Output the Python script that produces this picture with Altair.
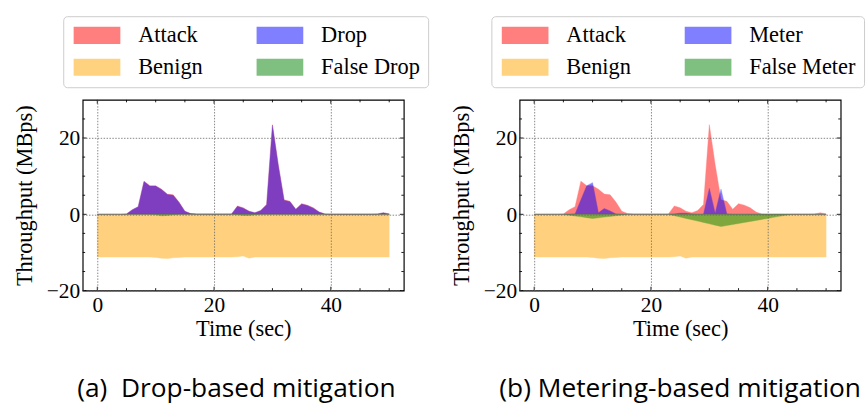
import altair as alt
import pandas as pd

# ---------------- data ----------------
time = list(range(51))

attack = [0, 0, 0, 0, 0, 0.1, 1.2, 2.0, 8.7, 7.5,
          7.5, 6.6, 5.3, 5.1, 3.2, 0.8, 0.2, 0.1, 0.1, 0.1,
          0.1, 0.1, 0.1, 0.1, 2.2, 1.7, 0.8, 0.4, 1.0, 2.6,
          23.5, 13.0, 3.8, 3.4, 1.3, 2.8, 2.4, 1.7, 0.6, 0.1,
          0.05, 0.05, 0.05, 0.05, 0.05, 0.05, 0.05, 0.05, 0.1, 0.4,
          0.1]

drop = [0, 0, 0, 0, 0, 0.1, 1.2, 2.0, 8.6, 7.4,
        7.4, 6.5, 5.2, 5.0, 3.1, 0.8, 0.2, 0.1, 0.1, 0.1,
        0.1, 0.1, 0.1, 0.1, 2.1, 1.6, 0.8, 0.4, 1.0, 2.5,
        23.4, 12.9, 3.7, 3.3, 1.3, 2.7, 2.3, 1.6, 0.6, 0.1,
        0.05, 0.05, 0.05, 0.05, 0.05, 0.05, 0.05, 0.05, 0.1, 0.4,
        0.1]

false_drop = [0, 0, 0, 0, 0, 0, 0, 0, 0, 0,
              -0.1, -0.4, -0.3, -0.1, 0, 0, 0, 0, 0, 0,
              0, 0, 0, 0, -0.1, -0.3, -0.3, -0.1, 0, 0,
              0, 0, 0, 0, 0, 0, 0, 0, 0, 0,
              0, 0, 0, 0, 0, 0, 0, 0, 0, 0,
              0]

benign = [-11.2, -11.2, -11.2, -11.2, -11.2, -11.2, -11.2, -11.2, -11.2, -11.2,
          -11.3, -11.5, -11.6, -11.4, -11.3, -11.2, -11.2, -11.2, -11.2, -11.2,
          -11.2, -11.2, -11.2, -11.2, -11.1, -10.9, -11.5, -11.2, -11.2, -11.2,
          -11.2, -11.2, -11.2, -11.2, -11.2, -11.2, -11.2, -11.2, -11.2, -11.2,
          -11.2, -11.2, -11.2, -11.2, -11.2, -11.2, -11.2, -11.2, -11.2, -11.2,
          -11.2]

meter = [0, 0, 0, 0, 0, 0, 0, 0.1, 3.8, 7.5,
         8.3, 0.4, 1.5, 0.9, 0.1, 0, 0, 0, 0, 0,
         0, 0, 0, 0, 0.1, 0.3, 0.3, 0.1, 0, 0,
         6.8, 0.3, 6.6, 0.1, 0, 0, 0, 0, 0, 0,
         0, 0, 0, 0, 0, 0, 0, 0, 0, 0,
         0]

false_meter = [0, 0, 0, 0, 0, 0, -0.22, -0.44, -0.66, -0.88,
               -1.1, -0.92, -0.73, -0.55, -0.37, -0.18, 0, 0, 0, 0,
               0, 0, 0, 0, -0.36, -0.71, -1.07, -1.42, -1.78, -2.13,
               -2.49, -2.84, -3.2, -2.93, -2.67, -2.4, -2.13, -1.87, -1.6, -1.33,
               -1.07, -0.8, -0.53, -0.27, 0, 0, 0, 0, 0, 0,
               0]

x_major = [0, 20, 40]
x_minor = [5, 10, 15, 25, 30, 35, 45, 50]
y_major = [-20, 0, 20]
y_minor = [-15, -10, -5, 5, 10, 15, 25]

# legend order (column-major): Attack, Benign | Drop, False
colors = ["#ff0000", "#ffa500", "#0000ff", "#008000"]

W, H = 330, 196
SERIF = "Liberation Serif"
RECT = "M-1,-1H4.45V1H-1Z"


def panel(names, values, caption, legend_x, cap_dx):
    xs = alt.Scale(domain=[-2.5, 52.5], nice=False, zero=False)
    ys = alt.Scale(domain=[-20, 30], nice=False, zero=False)
    cscale = alt.Scale(domain=names, range=colors)
    legend = alt.Legend(
        title=None, orient="none", legendX=legend_x, legendY=-86, columns=2,
        symbolType=RECT, symbolSize=310, symbolOpacity=0.5, symbolStrokeWidth=0,
        labelFont=SERIF, labelFontSize=23, labelColor="black", labelOffset=46,
        labelLimit=400, columnPadding=52, rowPadding=9, padding=8,
        strokeColor="#cccccc", cornerRadius=4, fillColor="white",
    )
    axis_x = alt.Axis(
        values=x_major, format="d", title="Time (sec)", grid=True,
        gridColor="#666666", gridDash=[1.5, 1.5], gridWidth=0.8, ticks=False,
        domain=False, labelFont=SERIF, labelFontSize=22, labelColor="black",
        labelPadding=4, titleFont=SERIF, titleFontSize=23, titleFontWeight="normal",
        titleColor="black", titlePadding=3, zindex=1,
    )
    axis_y = alt.Axis(
        values=y_major, format="d", title="Throughput (MBps)", grid=True,
        gridColor="#666666", gridDash=[1.5, 1.5], gridWidth=0.8, ticks=False,
        domain=False, labelFont=SERIF, labelFontSize=22, labelColor="black",
        labelPadding=3, titleFont=SERIF, titleFontSize=23, titleFontWeight="normal",
        titleColor="black", titlePadding=10, zindex=1,
    )
    # draw order: Attack, Benign, Drop/Meter, False
    layers = []
    for i in range(4):
        df = pd.DataFrame({"t": time, "v": values[i], "series": names[i]})
        layers.append(
            alt.Chart(df).mark_area(opacity=0.5, strokeWidth=0.8, strokeOpacity=0.5).encode(
                x=alt.X("t:Q", scale=xs, axis=axis_x),
                y=alt.Y("v:Q", scale=ys, axis=axis_y, stack=None),
                y2=alt.datum(0),
                color=alt.Color("series:N", scale=cscale, legend=legend),
                stroke=alt.Stroke("series:N", scale=cscale, legend=None),
            )
        )

    def xt(vals, ln):
        df = pd.DataFrame({"t": vals})
        base = alt.Chart(df).mark_rule(color="black", strokeWidth=0.9)
        return [
            base.encode(x=alt.X("t:Q", scale=xs, axis=axis_x), y=alt.value(H), y2=alt.value(H - ln)),
            base.encode(x=alt.X("t:Q", scale=xs, axis=axis_x), y=alt.value(0), y2=alt.value(ln)),
        ]

    def yt(vals, ln):
        df = pd.DataFrame({"v": vals})
        base = alt.Chart(df).mark_rule(color="black", strokeWidth=0.9)
        return [
            base.encode(y=alt.Y("v:Q", scale=ys, axis=axis_y), x=alt.value(0), x2=alt.value(ln)),
            base.encode(y=alt.Y("v:Q", scale=ys, axis=axis_y), x=alt.value(W), x2=alt.value(W - ln)),
        ]

    layers += xt(x_major, 4) + xt(x_minor, 2.5) + yt(y_major, 4) + yt(y_minor, 2.5)

    return alt.layer(*layers).properties(
        width=W, height=H,
        title=alt.TitleParams(
            text=caption, orient="bottom", anchor="middle", frame="group",
            font="Open Sans", fontSize=27, fontWeight="normal", color="black",
            offset=37, dx=cap_dx,
        ),
    )


left = panel(["Attack", "Benign", "Drop", "False Drop"],
             [attack, benign, drop, false_drop],
             "(a)\u00a0 Drop-based mitigation", -20, -7)
right = panel(["Attack", "Benign", "Meter", "False Meter"],
              [attack, benign, meter, false_meter],
              "(b) Metering-based mitigation", -29, 0)

chart = alt.hconcat(left, right, spacing=20).resolve_scale(
    color="independent", stroke="independent"
).configure_view(stroke="black", strokeWidth=1.2).properties(
    padding={"left": 13, "top": 9, "right": 0, "bottom": 0},
    background="white",
)

chart.save("out.html", embed_options={"renderer": "svg", "actions": False})
